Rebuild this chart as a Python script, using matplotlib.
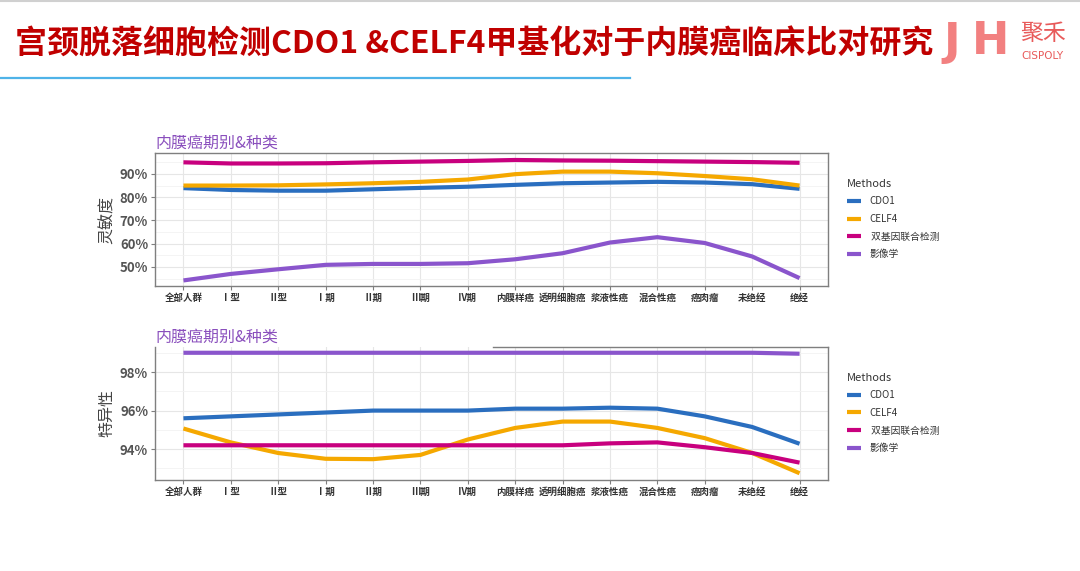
import matplotlib
matplotlib.use("Agg")
import matplotlib.pyplot as plt
from matplotlib.lines import Line2D

plt.rcParams['font.family'] = ['Noto Sans CJK SC', 'DejaVu Sans']

categories = ["全部人群", "Ⅰ型", "Ⅱ型", "Ⅰ期", "Ⅱ期", "Ⅲ期", "Ⅳ期",
              "内膜样癌", "透明细胞癌", "浆液性癌", "混合性癌", "癌肉瘤", "未绝经", "绝经"]
methods = ["CDO1", "CELF4", " 双基因联合检测", "影像学"]

# Sensitivity (%)
sens_cdo1 = [83.9, 83.1, 82.8, 82.8, 83.4, 84.0, 84.5, 85.3, 86.0, 86.3, 86.6, 86.3, 85.6, 83.6]
sens_celf4 = [85.0, 85.0, 85.1, 85.5, 86.0, 86.6, 87.6, 89.9, 91.0, 91.0, 90.3, 89.1, 87.7, 85.0]
sens_combo = [95.0, 94.5, 94.5, 94.6, 95.0, 95.3, 95.6, 96.0, 95.8, 95.7, 95.5, 95.3, 95.1, 94.8]
sens_img = [44.2, 47.0, 49.0, 50.9, 51.3, 51.3, 51.6, 53.3, 55.9, 60.5, 62.8, 60.3, 54.5, 45.2]

# Specificity (%)
spec_cdo1 = [95.6, 95.7, 95.8, 95.9, 96.0, 96.0, 96.0, 96.1, 96.1, 96.15, 96.1, 95.7, 95.15, 94.28]
spec_celf4 = [95.07, 94.35, 93.8, 93.5, 93.48, 93.7, 94.5, 95.1, 95.43, 95.43, 95.1, 94.57, 93.8, 92.75]
spec_combo = [94.2, 94.2, 94.2, 94.2, 94.2, 94.2, 94.2, 94.2, 94.2, 94.3, 94.35, 94.1, 93.8, 93.3]
spec_img = [99.0, 99.0, 99.0, 99.0, 99.0, 99.0, 99.0, 99.0, 99.0, 99.0, 99.0, 99.0, 99.0, 98.95]

colors = ["#2a6ebf", "#f5a800", "#c8007e", "#8a55cc"]

fig = plt.figure(figsize=(10.8, 5.71), dpi=100)
fig.patch.set_facecolor("white")

# header decorations
fig.add_artist(Line2D([0, 1], [0.998, 0.998], color="#d0d0d0", lw=1.5, transform=fig.transFigure))
fig.add_artist(Line2D([0, 630 / 1080], [1 - 78 / 571, 1 - 78 / 571], color="#4fb3e8", lw=1.6,
                      transform=fig.transFigure))
fig.text(15 / 1080, 1 - 45 / 571, "宫颈脱落细胞检测CDO1 &CELF4甲基化对于内膜癌临床比对研究",
         color="#c00000", fontsize=23.0, fontweight="bold", va="center", ha="left")
fig.text(943 / 1080, 1 - 42 / 571, "J", color="#f28080", fontsize=32, fontweight="bold",
         va="center", ha="left", family=["DejaVu Sans"])
fig.text(972 / 1080, 1 - 42 / 571, "H", color="#f28080", fontsize=32, fontweight="bold",
         va="center", ha="left", family=["DejaVu Sans"])
fig.text(1020 / 1080, 1 - 33 / 571, "聚禾", color="#e85a5a", fontsize=16.5, va="center", ha="left")
fig.text(1021 / 1080, 1 - 56 / 571, "CISPOLY", color="#e85a5a", fontsize=7.5, va="center", ha="left",
         family=["DejaVu Sans"])

x = list(range(1, len(categories) + 1))


def style_axes(ax, ylim, majors, minors, fmt):
    ax.set_xlim(0.4, len(categories) + 0.6)
    ax.set_ylim(*ylim)
    ax.set_xticks(x)
    ax.set_xticklabels(categories, fontsize=6.8, fontweight="bold", color="#333333")
    ax.set_xticks([], minor=True)
    ax.set_yticks(majors)
    ax.set_yticklabels([fmt.format(v) for v in majors], fontsize=9.5, fontweight="bold", color="#555555")
    ax.set_yticks(minors, minor=True)
    ax.grid(True, which="major", color="#e6e6e6", lw=0.8)
    ax.grid(True, which="minor", axis="y", color="#f2f2f2", lw=0.6)
    ax.set_axisbelow(True)
    for s in ax.spines.values():
        s.set_color("#7f7f7f")
        s.set_linewidth(1.0)
    ax.tick_params(axis="both", which="major", length=3, color="#7f7f7f", pad=2)
    ax.tick_params(axis="both", which="minor", length=0)


data_sets = [
    ([sens_cdo1, sens_celf4, sens_combo, sens_img], "灵敏度", (41.8, 99.0), [50, 60, 70, 80, 90],
     [45, 55, 65, 75, 85, 95], 0.4991),
    ([spec_cdo1, spec_celf4, spec_combo, spec_img], "特异性", (92.4, 99.3), [94, 96, 98],
     [93, 95, 97, 99], 0.1594),
]

for i, (series, ylabel, ylim, majors, minors, bottom) in enumerate(data_sets):
    ax = fig.add_axes([155 / 1080, bottom, 673 / 1080, 133 / 571])
    for vals, c, lab in zip(series, colors, methods):
        ax.plot(x, vals, color=c, lw=3, label=lab, solid_capstyle="butt")
    style_axes(ax, ylim, majors, minors, "{:d}%")
    ax.set_ylabel(ylabel, fontsize=11.5, color="#444444", labelpad=3)
    ax.text(0.0, 1.012, "内膜癌期别&种类", transform=ax.transAxes, fontsize=11.5,
            color="#8a4fbd", ha="left", va="bottom")
    if i == 1:
        ax.spines["top"].set_bounds(7.53, len(categories) + 0.6)
    leg = ax.legend(loc="upper left", bbox_to_anchor=(838 / 1080, (bottom + 133 / 571) - 17 / 571),
                    bbox_transform=fig.transFigure, frameon=False, title="Methods",
                    fontsize=7, title_fontsize=8, handlelength=1.5, handletextpad=0.8,
                    labelspacing=0.78)
    leg._legend_box.align = "left"
    leg.get_title().set_color("#333333")
    for t in leg.get_texts():
        t.set_color("#333333")

fig.savefig("out.png", dpi=100, facecolor="white")
